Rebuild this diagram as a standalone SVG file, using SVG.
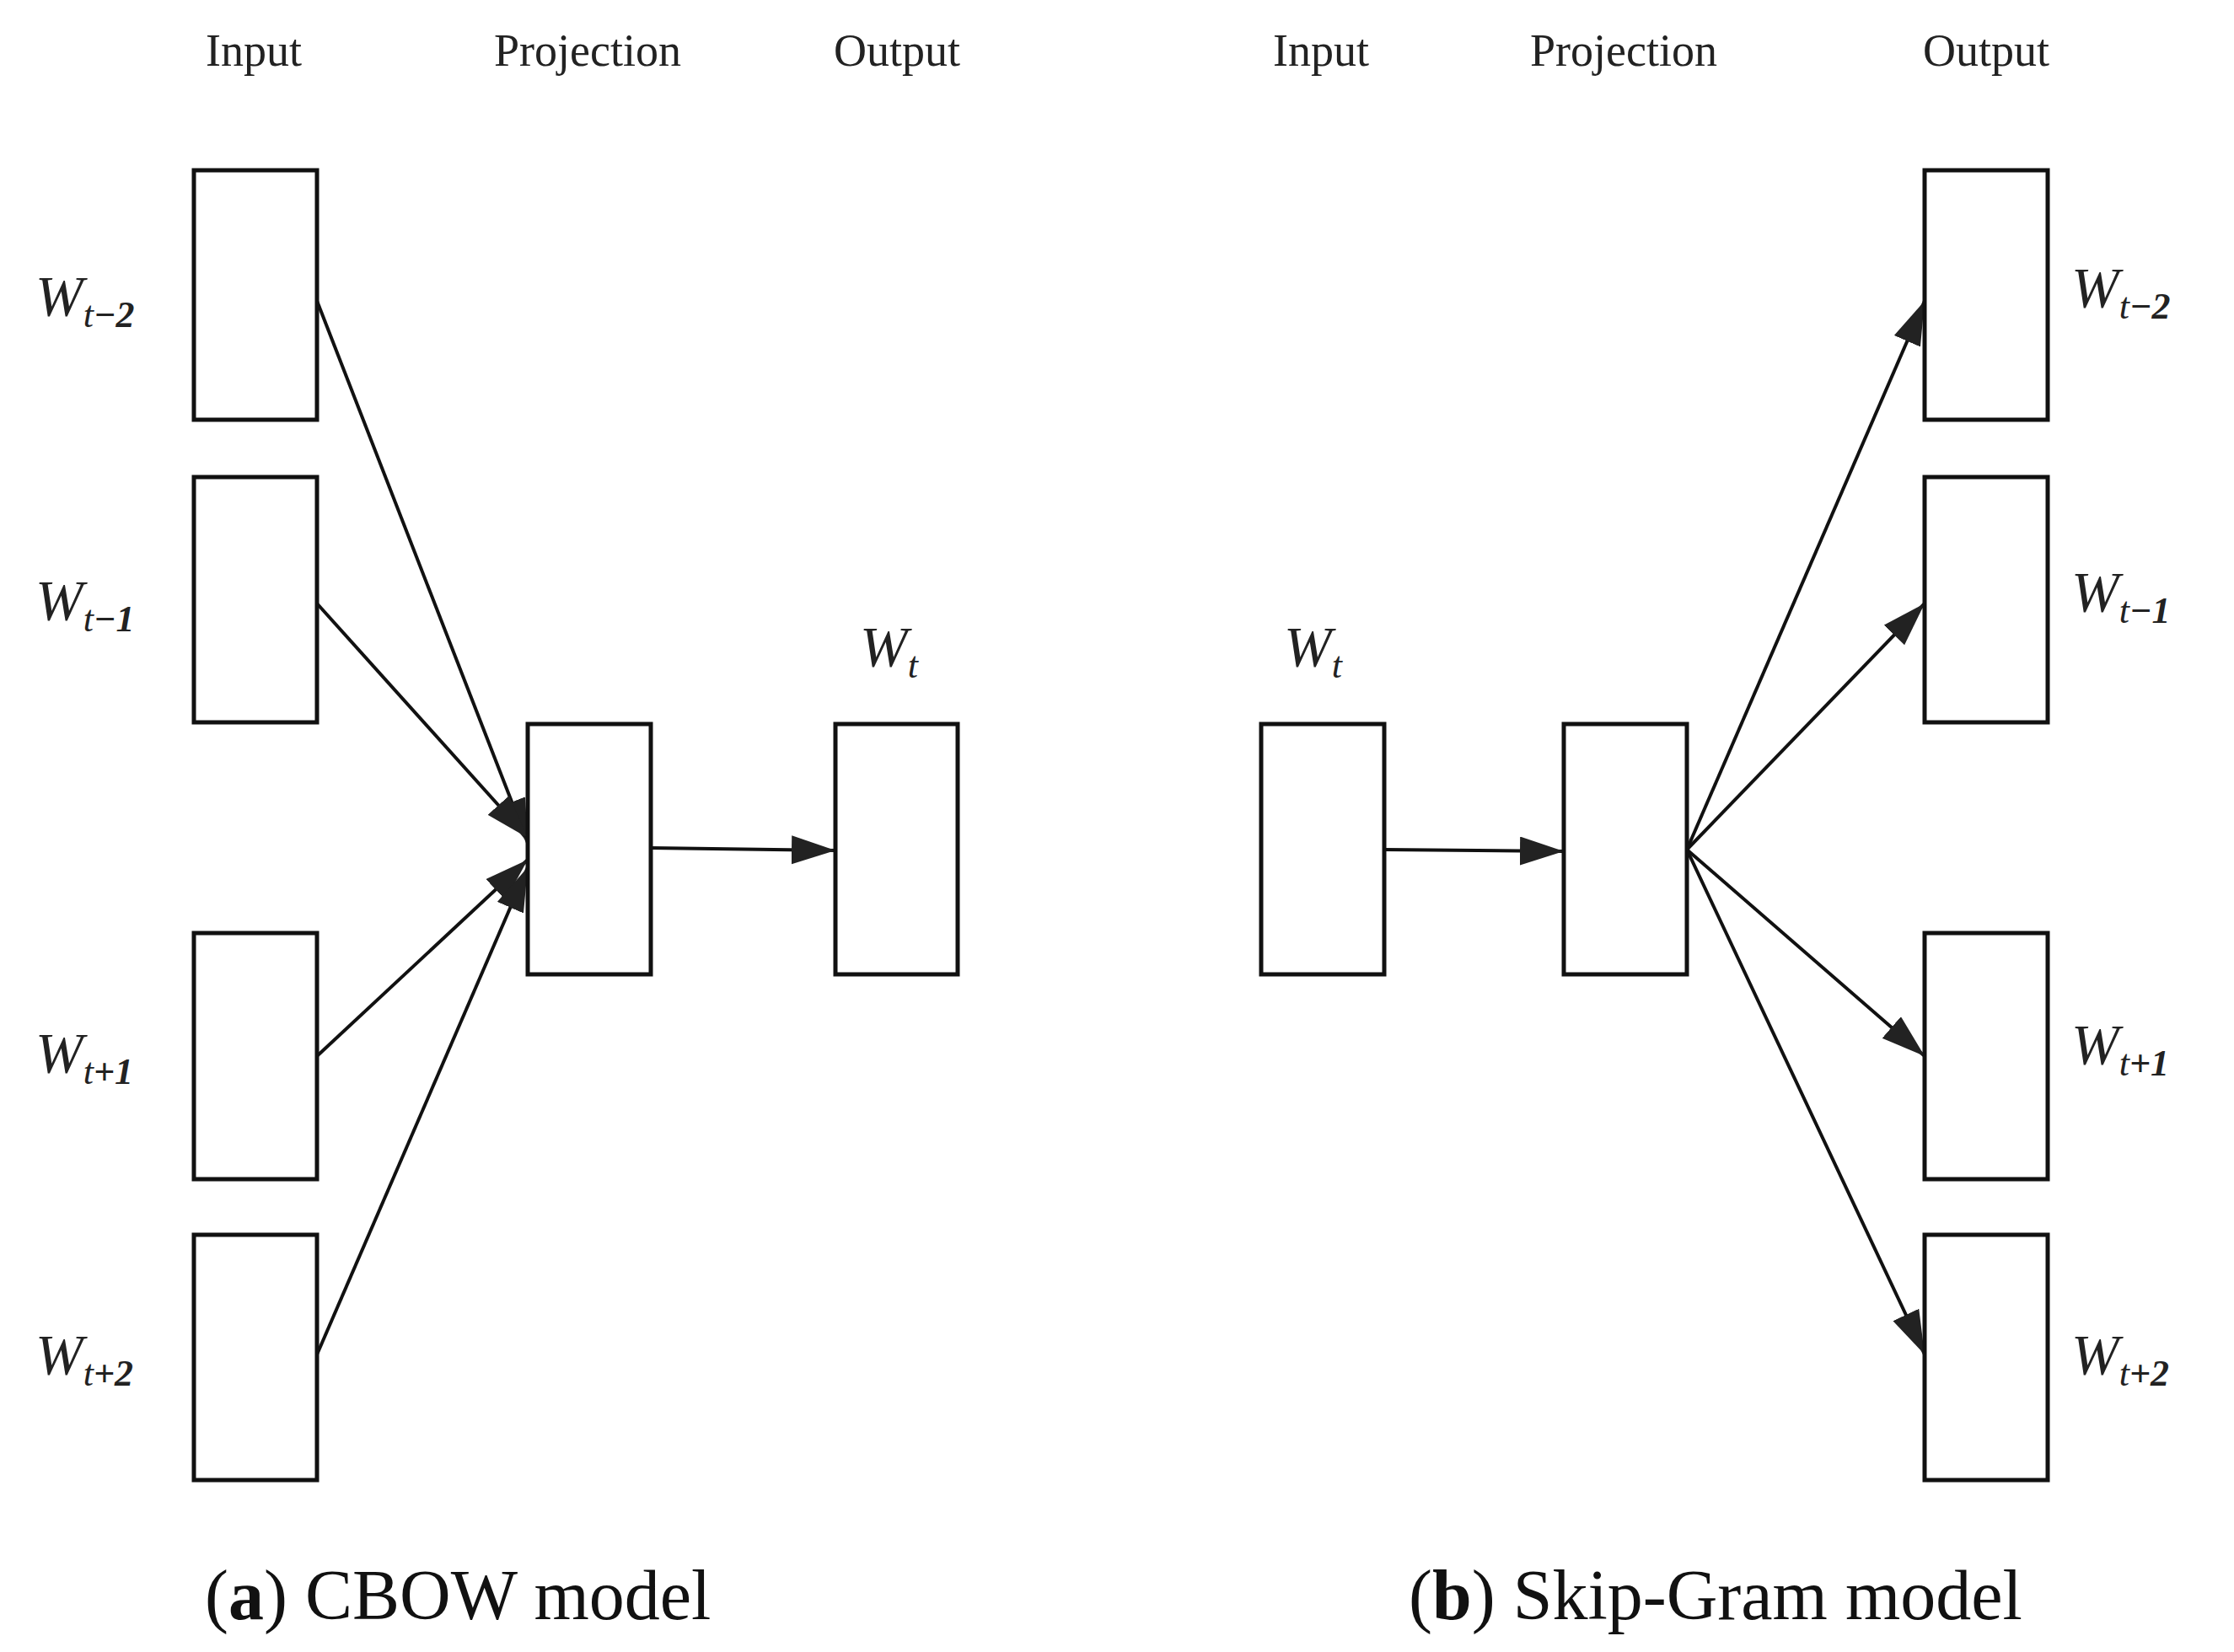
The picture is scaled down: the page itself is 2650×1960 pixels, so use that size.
<svg xmlns="http://www.w3.org/2000/svg" width="2650" height="1960" viewBox="0 0 2650 1960">
<style>
.box{fill:#fff;stroke:#111;stroke-width:5}
.hd{font-family:"Liberation Serif",serif;font-size:54px;fill:#222;text-anchor:middle}
.w{font-family:"Liberation Serif",serif;font-size:68px;font-style:italic;fill:#222}
.s{font-family:"Liberation Serif",serif;font-size:44px;font-style:italic;fill:#222}
.sb{font-family:"Liberation Serif",serif;font-size:44px;font-weight:bold;fill:#222}
.cap{font-family:"Liberation Serif",serif;font-size:84px;fill:#111}
.ln{stroke:#111;stroke-width:4;fill:none;marker-end:url(#ah)}
</style>
<defs>
<marker id="ah" markerUnits="userSpaceOnUse" markerWidth="60" markerHeight="40" refX="52" refY="17" orient="auto">
<path d="M0,0 L52,17 L0,34 Z" fill="#222"/>
</marker>
</defs>
<rect width="2650" height="1960" fill="#fff"/>
<g id="headers">
<text class="hd" x="301" y="78">Input</text>
<text class="hd" x="697" y="78">Projection</text>
<text class="hd" x="1064" y="78">Output</text>
<text class="hd" x="1567" y="78">Input</text>
<text class="hd" x="1926" y="78">Projection</text>
<text class="hd" x="2356" y="78">Output</text>
</g>
<g id="connectors">
<line class="ln" x1="376" y1="357" x2="626" y2="1000"/>
<line class="ln" x1="376" y1="716" x2="626" y2="994"/>
<line class="ln" x1="376" y1="1253" x2="626" y2="1020"/>
<line class="ln" x1="376" y1="1607" x2="626" y2="1029"/>
<line class="ln" x1="772" y1="1006" x2="991" y2="1009"/>
<line class="ln" x1="1642" y1="1008" x2="1855" y2="1010"/>
<line class="ln" x1="2001" y1="1008" x2="2283" y2="357"/>
<line class="ln" x1="2001" y1="1008" x2="2283" y2="716"/>
<line class="ln" x1="2001" y1="1008" x2="2283" y2="1253"/>
<line class="ln" x1="2001" y1="1008" x2="2283" y2="1607"/>
</g>
<g id="cbow-in-m2"><rect class="box" x="230" y="202" width="146" height="296"/><text class="w" x="42" y="374">W<tspan class="s" dy="14">t</tspan><tspan class="sb">−2</tspan></text></g>
<g id="cbow-in-m1"><rect class="box" x="230" y="566" width="146" height="291"/><text class="w" x="42" y="735">W<tspan class="s" dy="14">t</tspan><tspan class="sb">−1</tspan></text></g>
<g id="cbow-in-p1"><rect class="box" x="230" y="1107" width="146" height="292"/><text class="w" x="42" y="1272">W<tspan class="s" dy="14">t</tspan><tspan class="sb">+1</tspan></text></g>
<g id="cbow-in-p2"><rect class="box" x="230" y="1465" width="146" height="291"/><text class="w" x="42" y="1630">W<tspan class="s" dy="14">t</tspan><tspan class="sb">+2</tspan></text></g>
<g id="cbow-proj"><rect class="box" x="626" y="859" width="146" height="297"/></g>
<g id="cbow-out"><rect class="box" x="991" y="859" width="145" height="297"/><text class="w" x="1020" y="790">W<tspan class="s" dy="14">t</tspan></text></g>
<g id="sg-in"><rect class="box" x="1496" y="859" width="146" height="297"/><text class="w" x="1523" y="790">W<tspan class="s" dy="14">t</tspan></text></g>
<g id="sg-proj"><rect class="box" x="1855" y="859" width="146" height="297"/></g>
<g id="sg-out-m2"><rect class="box" x="2283" y="202" width="146" height="296"/><text class="w" x="2457" y="364">W<tspan class="s" dy="14">t</tspan><tspan class="sb">−2</tspan></text></g>
<g id="sg-out-m1"><rect class="box" x="2283" y="566" width="146" height="291"/><text class="w" x="2457" y="725">W<tspan class="s" dy="14">t</tspan><tspan class="sb">−1</tspan></text></g>
<g id="sg-out-p1"><rect class="box" x="2283" y="1107" width="146" height="292"/><text class="w" x="2457" y="1262">W<tspan class="s" dy="14">t</tspan><tspan class="sb">+1</tspan></text></g>
<g id="sg-out-p2"><rect class="box" x="2283" y="1465" width="146" height="291"/><text class="w" x="2457" y="1630">W<tspan class="s" dy="14">t</tspan><tspan class="sb">+2</tspan></text></g>
<g id="captions">
<text class="cap" x="243" y="1921">(<tspan font-weight="bold">a</tspan>) CBOW model</text>
<text class="cap" x="1671" y="1921">(<tspan font-weight="bold">b</tspan>) Skip-Gram model</text>
</g>
</svg>
